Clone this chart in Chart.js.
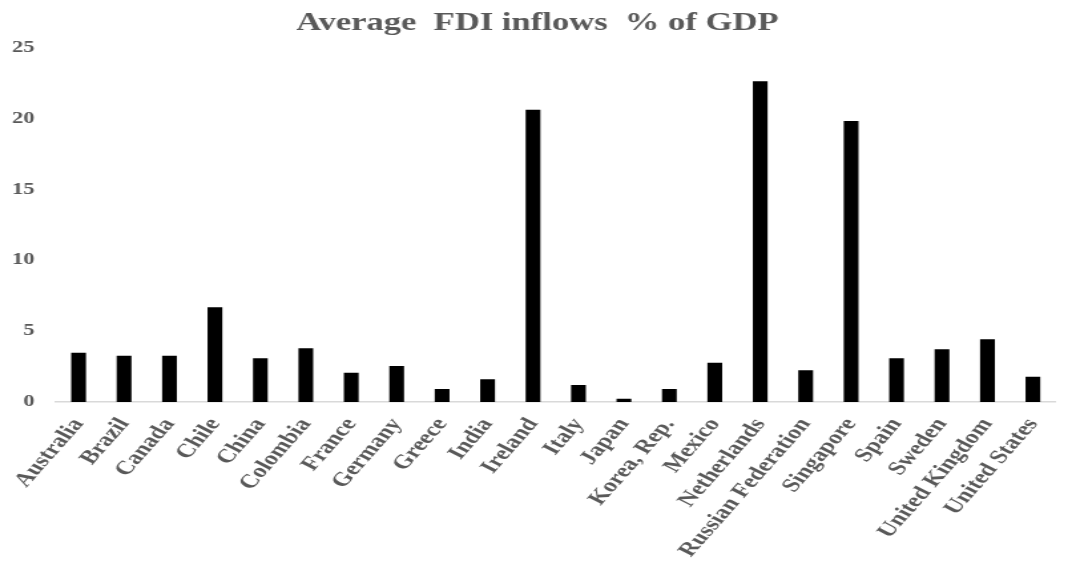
<!DOCTYPE html>
<html>
<head>
<meta charset="utf-8">
<title>Average FDI inflows % of GDP</title>
<script src="https://cdn.jsdelivr.net/npm/chart.js@4/dist/chart.umd.min.js"></script>
<style>
  html, body { margin: 0; padding: 0; background: #ffffff; overflow: hidden; }
  /* The chart is laid out narrow and widened horizontally, giving the broad lettering */
  #wrap {
    width: 808px; height: 567px; position: relative;
    transform: scaleX(1.33); transform-origin: 0 0;
  }
</style>
</head>
<body>
<div id="wrap"><canvas id="chart"></canvas></div>
<script>
// Countries on the horizontal axis
const countries = [
  "Australia", "Brazil", "Canada", "Chile", "China", "Colombia", "France",
  "Germany", "Greece", "India", "Ireland", "Italy", "Japan", "Korea, Rep.",
  "Mexico", "Netherlands", "Russian Federation", "Singapore", "Spain",
  "Sweden", "United Kingdom", "United States"
];

// Average FDI inflows, % of GDP
const fdiInflows = [
  3.47, 3.26, 3.26, 6.67, 3.08, 3.78, 2.06,
  2.54, 0.92, 1.60, 20.6, 1.20, 0.23, 0.92,
  2.77, 22.6, 2.23, 19.8, 3.08,
  3.71, 4.42, 1.78
];

// Value axis ticks
const yTicks = [0, 5, 10, 15, 20, 25];

const serif = "'Liberation Serif', 'Times New Roman', 'DejaVu Serif', serif";
const textGrey = "#595959";

new Chart(document.getElementById("chart"), {
  type: "bar",
  data: {
    labels: countries,
    datasets: [{
      label: "Average FDI inflows % of GDP",
      data: fdiInflows,
      backgroundColor: "#000000",
      borderWidth: 0,
      categoryPercentage: 1.0,
      barPercentage: 0.325
    }]
  },
  options: {
    responsive: true,
    maintainAspectRatio: false,
    animation: false,
    layout: { padding: { left: 0, right: 0, top: 0, bottom: 0 } },
    plugins: {
      legend: { display: false },
      tooltip: { enabled: false },
      title: {
        display: true,
        text: "Average  FDI inflows  % of GDP",
        color: textGrey,
        font: { family: serif, size: 26, weight: "bold" },
        padding: { top: 8, bottom: 8 }
      }
    },
    scales: {
      x: {
        grid: { display: false, drawTicks: false },
        border: { display: true, color: "#d9d9d9", width: 1.5 },
        ticks: {
          color: textGrey,
          font: { family: serif, size: 19.5, weight: "bold" },
          minRotation: 56,
          maxRotation: 56,
          autoSkip: false,
          padding: 12
        },
        afterFit(scale) { scale.height = 165; }
      },
      y: {
        min: 0,
        max: 25,
        afterBuildTicks(scale) { scale.ticks = yTicks.map(v => ({ value: v })); },
        grid: { display: false, drawTicks: false },
        border: { display: false },
        ticks: {
          color: textGrey,
          font: { family: serif, size: 17, weight: "bold" },
          padding: 16
        },
        afterFit(scale) { scale.width = 42; }
      }
    }
  }
});
</script>
</body>
</html>
